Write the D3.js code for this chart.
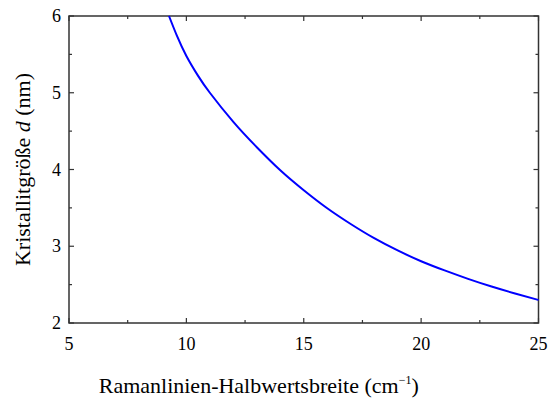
<!DOCTYPE html>
<head>
    <script src="https://d3js.org/d3.v7.min.js"></script>
    <style>
body { margin: 0; background: #fff; }
</style>
</head>
<body>
    <svg></svg>
</body>

<script>
    // Raman line half-width (cm^-1) vs. crystallite size d (nm)
    var halfWidth = [9.26, 9.6, 10, 10.5, 11, 12, 13, 14, 15, 16, 17, 18, 19, 20, 21, 22, 23, 24, 25];
    var crystSize = [6.0, 5.74, 5.48, 5.22, 5.0, 4.62, 4.29, 3.99, 3.73, 3.495, 3.29, 3.105, 2.945, 2.805, 2.685, 2.575, 2.475, 2.385, 2.30];

    var xTicks = [5, 10, 15, 20, 25];
    var xMinor = [7.5, 12.5, 17.5, 22.5];
    var yTicks = [2, 3, 4, 5, 6];
    var yMinor = [2.5, 3.5, 4.5, 5.5];

    var width = 549, height = 400;
    var margin = {top: 16, right: 10.5, bottom: 77, left: 69};
    var font = '"Liberation Serif", "DejaVu Serif", "Times New Roman", serif';

    var svg = d3.select('svg').attr('width', width).attr('height', height)
        .attr('font-family', font);

    var x = d3.scaleLinear().domain([5, 25]).range([margin.left, width - margin.right]);
    var y = d3.scaleLinear().domain([2, 6]).range([height - margin.bottom, margin.top]);

    var axisColor = '#333';

    // frame
    svg.append('rect')
        .attr('x', x(5)).attr('y', y(6))
        .attr('width', x(25) - x(5)).attr('height', y(2) - y(6))
        .attr('fill', 'none').attr('stroke', axisColor).attr('stroke-width', 1.5);

    // inward ticks on all four sides
    function ticks(vals, len) {
        vals.forEach(function(v) {
            svg.append('line').attr('x1', x(v)).attr('x2', x(v)).attr('y1', y(2)).attr('y2', y(2) - len)
                .attr('stroke', axisColor).attr('stroke-width', 1.2);
            svg.append('line').attr('x1', x(v)).attr('x2', x(v)).attr('y1', y(6)).attr('y2', y(6) + len)
                .attr('stroke', axisColor).attr('stroke-width', 1.2);
        });
    }
    function yticks(vals, len) {
        vals.forEach(function(v) {
            svg.append('line').attr('x1', x(5)).attr('x2', x(5) + len).attr('y1', y(v)).attr('y2', y(v))
                .attr('stroke', axisColor).attr('stroke-width', 1.2);
            svg.append('line').attr('x1', x(25)).attr('x2', x(25) - len).attr('y1', y(v)).attr('y2', y(v))
                .attr('stroke', axisColor).attr('stroke-width', 1.2);
        });
    }
    ticks(xTicks, 5); ticks(xMinor, 3);
    yticks(yTicks, 5); yticks(yMinor, 3);

    // tick labels
    svg.selectAll('.xl').data(xTicks).enter().append('text')
        .attr('font-family', font)
        .attr('x', function(d) { return x(d); })
        .attr('y', y(2) + 27)
        .attr('text-anchor', 'middle')
        .style('font-size', '18px')
        .text(function(d) { return d; });

    svg.selectAll('.yl').data(yTicks).enter().append('text')
        .attr('font-family', font)
        .attr('x', x(5) - 8)
        .attr('y', function(d) { return y(d) + 6; })
        .attr('text-anchor', 'end')
        .style('font-size', '18px')
        .text(function(d) { return d; });

    // axis titles
    var xt = svg.append('text')
        .attr('font-family', font)
        .attr('x', (x(5) + x(25)) / 2 - 45)
        .attr('y', 393)
        .attr('text-anchor', 'middle')
        .style('font-size', '22px');
    xt.append('tspan').text('Ramanlinien-Halbwertsbreite (cm');
    xt.append('tspan').attr('dy', -9).style('font-size', '12px').text('\u22121');
    xt.append('tspan').attr('dy', 9).text(')');

    var yt = svg.append('text')
        .attr('font-family', font)
        .attr('transform', 'translate(30,' + (y(4)) + ')rotate(-90)')
        .attr('text-anchor', 'middle')
        .style('font-size', '22px');
    yt.append('tspan').text('Kristallitgr\u00f6\u00dfe ');
    yt.append('tspan').style('font-style', 'italic').text('d');
    yt.append('tspan').text(' (nm)');

    // curve
    var pts = halfWidth.map(function(v, i) { return [v, crystSize[i]]; });
    var line = d3.line()
        .x(function(d) { return x(d[0]); })
        .y(function(d) { return y(d[1]); })
        .curve(d3.curveNatural);

    svg.append('path')
        .datum(pts)
        .attr('d', line)
        .attr('fill', 'none')
        .attr('stroke', '#0000ff')
        .attr('stroke-width', 2);
</script>
